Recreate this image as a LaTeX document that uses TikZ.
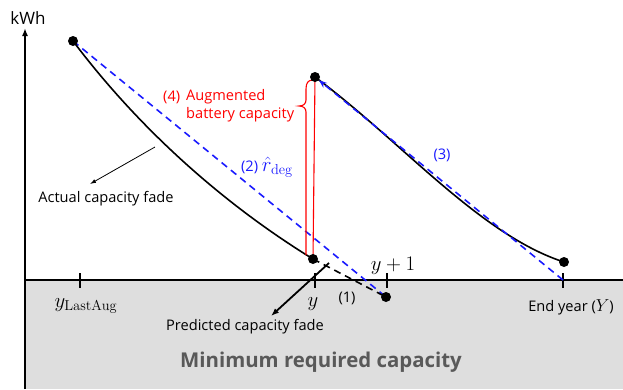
\documentclass[tikz,border=0pt]{standalone}
\usepackage[no-math]{fontspec}
\setmainfont{Open Sans}
\usetikzlibrary{arrows.meta}
\definecolor{bg}{HTML}{DEDEDE}
\definecolor{mintxt}{HTML}{595959}
\definecolor{lblue}{HTML}{1A1AFF}
\newcommand{\bigmath}[1]{{\fontsize{19}{21}\selectfont$#1$}}
\newcommand{\rdeg}{{\fontsize{21}{23}\selectfont$\hat{r}_{\mathrm{deg}}$}}
\begin{document}
\begin{tikzpicture}[x=1pt,y=-1pt,
  dot/.style={circle,fill=black,inner sep=0pt,minimum size=10pt},
  lbl/.style={font=\fontsize{14.6}{17}\selectfont, inner sep=0pt},
  mlbl/.style={font=\fontsize{20}{22}\selectfont, inner sep=0pt},
  curve/.style={line width=1.6pt},
  bdash/.style={lblue, line width=1.6pt, dash pattern=on 7pt off 5pt},
  kdash/.style={black, line width=1.6pt, dash pattern=on 7pt off 5pt},
  tickmark/.style={line width=2pt},
  redline/.style={red, line width=1.1pt},
]
\useasboundingbox (0,0) rectangle (623,389);
\fill[bg] (25,280) rectangle (623,389);
% axes
\coordinate (o) at (25,389);
\coordinate (ytop) at (25,28);
\coordinate (xstart) at (25,280);
\coordinate (xend) at (623,280);
\draw[line width=1.6pt,-{Latex[length=8pt,width=6pt]}] (o) -- (ytop);
\draw[line width=2pt] (xstart) -- (xend);
\foreach \x/\n in {80/ta,315/tb,387/tc,563/td}{
  \coordinate (\n) at (\x,280);
  \draw[tickmark] (\x,273) -- (\x,288);
}
% key points
\coordinate (P1) at (73,41);
\coordinate (P2) at (313,259);
\coordinate (P3) at (315,77);
\coordinate (P4) at (564,262);
\coordinate (P5) at (386,297);
% lines
\draw[bdash] (P1) -- (P5);
\draw[curve] (P1) .. controls (140,130) and (225,205) .. (P2);
\draw[kdash] (P2) -- (P5);
\draw[curve] (P3) .. controls (400,140) and (480,235) .. (P4);
\draw[redline] (P2) -- (P3);
\draw[redline] (313,80) .. controls (308,80) and (306,83) .. (306,89) -- (306,100)
  .. controls (306,104) and (303,106) .. (299,106)
  .. controls (303,106) and (306,108) .. (306,112) -- (306,255);
% dots
\node[dot] (p1) at (P1) {};
\node[dot] (p2) at (P2) {};
\node[dot] (p3) at (P3) {};
\node[dot] (p4) at (P4) {};
\node[dot] (p5) at (P5) {};
\draw[bdash, -{Stealth[length=8pt,width=6pt]}] (td) -- (p3);
% labels
\node[font=\fontsize{17}{20}\selectfont, inner sep=0pt] (kwh) at (28,18) {kWh};
\node[mlbl] (ylast) at (86,306) {$y_{\mathrm{LastAug}}$};
\node[mlbl] (ylab) at (313,304) {$y$};
\node[mlbl] (y1) at (393,266) {$y+1$};
\node[lbl] (endy) at (571,307) {End year (\bigmath{Y})};
\node[lbl] (pcf) at (245,327) {Predicted capacity fade};
\node[lbl] (acf) at (106,199) {Actual capacity fade};
\node[font=\fontsize{20.4}{24}\selectfont\bfseries, text=mintxt, inner sep=0pt] (minr) at (321,362) {Minimum required capacity};
\node[lbl] (l1) at (347,298) {(1)};
\node[lbl, text=lblue] (l2) at (267,167) {(2) \rdeg};
\node[lbl, text=lblue] (l3) at (442,155) {(3)};
\node[lbl, text=red, anchor=west] (l4) at (163,97) {(4)};
\node[lbl, text=red, anchor=west] (aug1) at (186,97) {Augmented};
\node[lbl, text=red, anchor=west] (aug2) at (186,115) {battery capacity};
% pointer arrows
\coordinate (pcfs) at (329,263);
\coordinate (pcft) at (271,316);
\draw[line width=1.8pt, -{Latex[length=8pt,width=6pt]}] (pcfs) -- (pcft);
\coordinate (acfs) at (155,147);
\coordinate (acft) at (90,184);
\draw[line width=0.8pt, -{Latex[length=6pt,width=4pt]}] (acfs) -- (acft);
\end{tikzpicture}
\end{document}
